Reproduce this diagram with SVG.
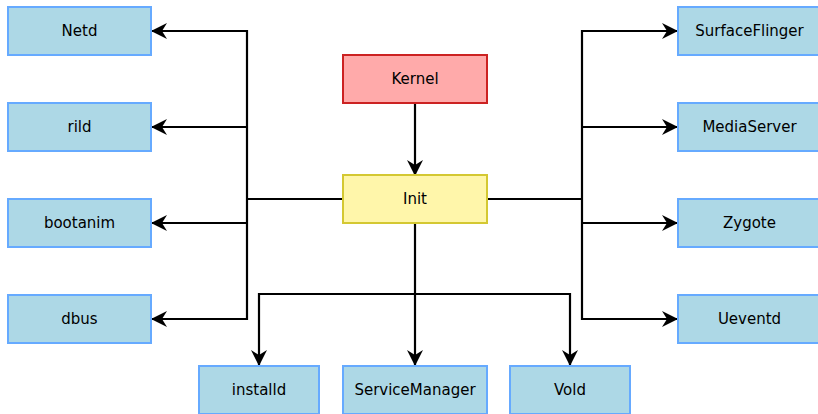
<svg xmlns="http://www.w3.org/2000/svg" width="818" height="414" viewBox="0 0 818 414">
  <style>
    .box { stroke-width: 2; }
    .svc { fill: #add8e6; stroke: #66aaff; }
    .kern { fill: #ffaaaa; stroke: #cc2222; }
    .init { fill: #fff6aa; stroke: #d4c832; }
    .lbl { font-family: "DejaVu Sans", sans-serif; font-size: 15px; fill: #000; text-anchor: middle; dominant-baseline: central; }
    .wire { fill: none; stroke: #000; stroke-width: 2.2; }
    .arr { marker-end: url(#head); }
  </style>
  <defs>
    <marker id="head" viewBox="0 0 16 16" refX="15" refY="8" markerWidth="16" markerHeight="16" markerUnits="userSpaceOnUse" orient="auto">
      <path d="M0,0 L16,8 L0,16 L5,8 Z" fill="#000"/>
    </marker>
  </defs>

  <g id="connectors">
    <!-- Kernel to Init -->
    <path class="wire arr" d="M415,103 V175"/>
    <!-- left fan-out -->
    <path class="wire" d="M343,199 H247"/>
    <path class="wire arr" d="M247,199 V31 H152"/>
    <path class="wire arr" d="M247,127 H152"/>
    <path class="wire arr" d="M247,223 H152"/>
    <path class="wire arr" d="M247,199 V319 H152"/>
    <!-- right fan-out -->
    <path class="wire" d="M487,199 H582"/>
    <path class="wire arr" d="M582,199 V31 H677"/>
    <path class="wire arr" d="M582,127 H677"/>
    <path class="wire arr" d="M582,223 H677"/>
    <path class="wire arr" d="M582,199 V319 H677"/>
    <!-- bottom fan-out -->
    <path class="wire arr" d="M415,223 V365"/>
    <path class="wire arr" d="M415,294 H259 V365"/>
    <path class="wire arr" d="M415,294 H570 V365"/>
  </g>

  <g id="kernel"><rect class="box kern" x="343" y="55" width="144" height="48"/><text class="lbl" x="415" y="79">Kernel</text></g>
  <g id="init"><rect class="box init" x="343" y="175" width="144" height="48"/><text class="lbl" x="415" y="199">Init</text></g>

  <g id="netd"><rect class="box svc" x="8" y="7" width="143" height="48"/><text class="lbl" x="79.5" y="31">Netd</text></g>
  <g id="rild"><rect class="box svc" x="8" y="103" width="143" height="48"/><text class="lbl" x="79.5" y="127">rild</text></g>
  <g id="bootanim"><rect class="box svc" x="8" y="199" width="143" height="48"/><text class="lbl" x="79.5" y="223">bootanim</text></g>
  <g id="dbus"><rect class="box svc" x="8" y="295" width="143" height="48"/><text class="lbl" x="79.5" y="319">dbus</text></g>

  <g id="surfaceflinger"><rect class="box svc" x="678" y="7" width="143" height="48"/><text class="lbl" x="749.5" y="31">SurfaceFlinger</text></g>
  <g id="mediaserver"><rect class="box svc" x="678" y="103" width="143" height="48"/><text class="lbl" x="749.5" y="127">MediaServer</text></g>
  <g id="zygote"><rect class="box svc" x="678" y="199" width="143" height="48"/><text class="lbl" x="749.5" y="223">Zygote</text></g>
  <g id="ueventd"><rect class="box svc" x="678" y="295" width="143" height="48"/><text class="lbl" x="749.5" y="319">Ueventd</text></g>

  <g id="installd"><rect class="box svc" x="199" y="366" width="120" height="48"/><text class="lbl" x="259" y="390">installd</text></g>
  <g id="servicemanager"><rect class="box svc" x="343" y="366" width="144" height="48"/><text class="lbl" x="415" y="390">ServiceManager</text></g>
  <g id="vold"><rect class="box svc" x="510" y="366" width="120" height="48"/><text class="lbl" x="570" y="390">Vold</text></g>
</svg>
